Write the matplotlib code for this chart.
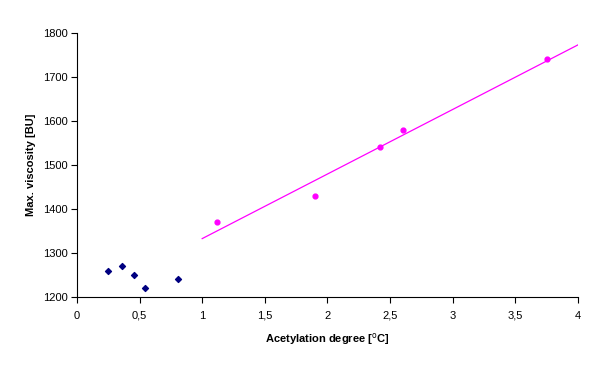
import numpy as np
import matplotlib
matplotlib.use("Agg")
import matplotlib.pyplot as plt

plt.rcParams['font.family'] = ['Liberation Sans', 'DejaVu Sans']

# low acetylation samples
x_low = [0.25, 0.36, 0.455, 0.54, 0.81]
y_low = [1260, 1270, 1250, 1220, 1240]

# higher acetylation samples
x_high = [1.12, 1.90, 2.42, 2.60, 3.75]
y_high = [1370, 1430, 1540, 1580, 1740]

x_ticks = [0, 0.5, 1, 1.5, 2, 2.5, 3, 3.5, 4]
x_ticklabels = ['0', '0,5', '1', '1,5', '2', '2,5', '3', '3,5', '4']
y_ticks = [1200, 1300, 1400, 1500, 1600, 1700, 1800]

fig = plt.figure(figsize=(6.15, 3.65), dpi=100)
ax = fig.add_axes([0.125, 0.186, 0.815, 0.724])

ax.scatter(x_low, y_low, marker='D', s=9, color='#000080', zorder=3)
ax.scatter(x_high, y_high, marker='o', s=12, color='#FF00FF', zorder=3)

# linear trend through the magenta series
k, b = np.polyfit(x_high, y_high, 1)
xl = np.array([1.0, 4.0])
ax.plot(xl, k * xl + b, color='#FF00FF', lw=0.9)

ax.set_xlim(0, 4)
ax.set_ylim(1200, 1800)
ax.set_xticks(x_ticks)
ax.set_xticklabels(x_ticklabels)
ax.set_yticks(y_ticks)
ax.tick_params(direction='out', length=4, width=0.8, labelsize=8)
ax.tick_params(axis='x', pad=6)
ax.tick_params(axis='y', pad=2.5)

for s in ['top', 'right']:
    ax.spines[s].set_visible(False)
for s in ['left', 'bottom']:
    ax.spines[s].set_linewidth(0.8)

ax.set_xlabel('Acetylation degree [$^{\\rm o}$C]', fontsize=8, fontweight='bold', labelpad=7)
ax.set_ylabel('Max. viscosity [BU]', fontsize=8, fontweight='bold', labelpad=5)

fig.savefig('out.png', dpi=100)
